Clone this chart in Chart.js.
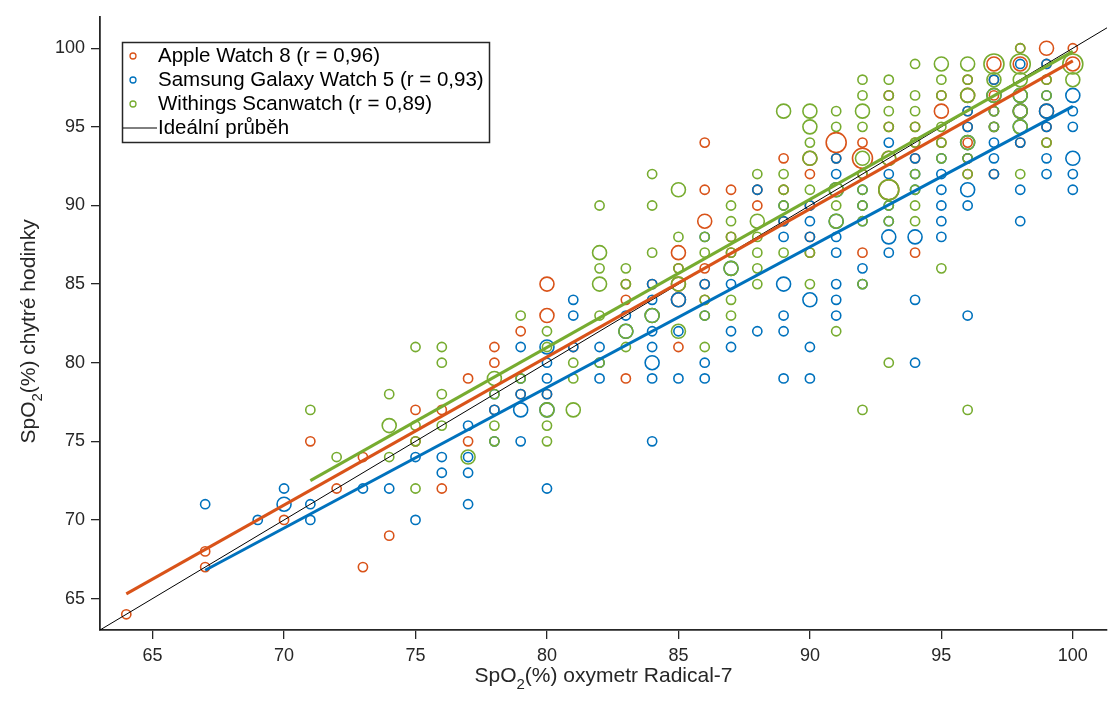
<!DOCTYPE html>
<html>
<head>
<meta charset="utf-8">
<script src="https://cdn.jsdelivr.net/npm/chart.js@4.4.1/dist/chart.umd.min.js"></script>
<style>
  html, body { margin: 0; padding: 0; background: #fff; }
  #wrap { width: 1110px; height: 707px; }
</style>
</head>
<body>
<div id="wrap"><canvas id="chart" width="1110" height="707"></canvas></div>
<script>
// series: [oxymetr SpO2, watch SpO2, count]
const apple = [
  [64,64,1],[67,67,1],[67,68,1],[70,70,1],[71,75,1],[72,72,1],[73,67,1],[73,74,1],[74,69,1],
  [75,77,1],[75,75,1],[76,77,1],[76,72,1],[77,79,1],[77,75,1],[78,81,1],[78,80,1],[78,77,1],
  [79,82,1],[79,78,1],[80,85,2],[80,83,2],[80,78,1],[81,81,1],[83,85,1],[83,84,1],[83,79,1],
  [84,85,1],[85,87,2],[85,86,1],[85,85,2],[85,84,2],[85,81,1],
  [86,94,1],[86,91,1],[86,89,2],[86,86,1],[86,85,1],[86,84,1],
  [87,91,1],[87,88,1],[87,87,1],[88,91,1],[88,90,1],[89,93,1],[89,91,1],[89,89,1],
  [90,93,2],[90,92,1],[90,90,1],[90,88,1],[90,87,1],[91,94,3],[91,93,1],
  [92,94,1],[92,93,3],[92,92,1],[92,87,1],[93,97,1],[93,95,1],[93,93,2],[93,91,3],
  [94,95,1],[94,94,1],[94,93,1],[94,87,1],[95,97,1],[95,96,2],[95,94,1],
  [96,98,1],[96,97,2],[96,96,1],[96,95,1],[96,94,1],[96,93,1],[96,92,1],
  [97,99,2],[97,98,1],[97,97,1],[97,96,1],[97,95,1],[97,92,1],
  [98,100,1],[98,99,2],[98,96,2],[98,94,1],
  [99,100,2],[99,99,1],[99,98,1],[99,96,2],[99,95,1],[99,94,1],[100,100,1],[100,99,2]
];
const samsung = [
  [67,71,1],[69,70,1],[70,72,1],[70,71,2],[71,71,1],[71,70,1],[73,72,1],[74,72,1],[75,74,1],[75,70,1],
  [76,74,1],[76,73,1],[77,76,1],[77,74,1],[77,73,1],[77,71,1],[78,78,1],[78,77,1],[78,75,1],
  [79,81,1],[79,79,1],[79,78,1],[79,77,2],[79,75,1],[80,81,2],[80,80,1],[80,79,1],[80,78,1],[80,77,2],[80,72,1],
  [81,84,1],[81,83,1],[81,81,1],[82,81,1],[82,80,1],[82,79,1],[83,83,1],[83,82,2],
  [84,85,1],[84,84,1],[84,83,2],[84,82,1],[84,81,1],[84,80,2],[84,79,1],[84,75,1],
  [85,84,2],[85,82,1],[85,79,1],[86,88,1],[86,85,1],[86,83,1],[86,80,1],[86,79,1],
  [87,86,2],[87,85,1],[87,82,1],[87,81,1],[88,91,1],[88,82,1],
  [89,90,1],[89,89,1],[89,88,1],[89,85,2],[89,83,1],[89,82,1],[89,79,1],
  [90,90,1],[90,89,1],[90,88,1],[90,84,2],[90,81,1],[90,79,1],
  [91,93,1],[91,92,1],[91,91,2],[91,89,2],[91,88,1],[91,87,1],[91,85,1],[91,84,1],[91,83,1],
  [92,91,1],[92,90,1],[92,89,1],[92,86,1],[92,85,1],
  [93,94,1],[93,92,1],[93,90,1],[93,89,1],[93,88,2],[93,87,1],
  [94,93,1],[94,92,1],[94,91,1],[94,88,2],[94,84,1],[94,80,1],
  [95,93,1],[95,92,1],[95,91,1],[95,90,1],[95,89,1],[95,88,1],
  [96,96,1],[96,95,1],[96,94,2],[96,93,1],[96,91,2],[96,90,1],[96,83,1],
  [97,98,1],[97,97,2],[97,96,1],[97,95,1],[97,94,1],[97,93,1],[97,92,1],
  [98,99,1],[98,97,2],[98,96,2],[98,95,2],[98,94,1],[98,91,1],[98,89,1],
  [99,99,1],[99,97,1],[99,96,2],[99,95,1],[99,93,1],[99,92,1],
  [100,97,2],[100,96,1],[100,95,1],[100,93,2],[100,92,1],[100,91,1]
];
const withings = [
  [71,77,1],[72,74,1],[74,78,1],[74,76,2],[74,74,1],[75,81,1],[75,76,1],[75,75,1],[75,72,1],
  [76,81,1],[76,80,1],[76,78,1],[76,76,1],[77,74,2],[78,79,2],[78,78,1],[78,76,1],[78,75,1],
  [79,83,1],[79,79,1],[80,82,1],[80,81,1],[80,77,2],[80,76,1],[80,75,1],[81,80,1],[81,79,1],[81,77,2],
  [82,90,1],[82,87,2],[82,86,1],[82,85,2],[82,83,1],[82,80,1],[83,86,1],[83,85,1],[83,82,2],[83,81,1],
  [84,92,1],[84,90,1],[84,87,1],[84,83,2],[85,91,2],[85,88,1],[85,86,1],[85,85,2],[85,82,2],
  [86,88,1],[86,87,1],[86,84,1],[86,83,1],[86,81,1],
  [87,90,1],[87,89,1],[87,88,1],[87,87,1],[87,86,2],[87,84,1],[87,83,1],
  [88,92,1],[88,89,2],[88,88,1],[88,87,1],[88,86,1],[88,85,1],
  [89,96,2],[89,92,1],[89,91,1],[89,90,1],[89,87,1],
  [90,96,2],[90,95,2],[90,94,1],[90,93,2],[90,91,1],[90,87,1],[90,85,1],
  [91,96,1],[91,95,1],[91,91,2],[91,90,1],[91,89,2],[91,82,1],
  [92,98,1],[92,97,1],[92,96,2],[92,95,1],[92,93,2],[92,92,1],[92,91,1],[92,90,1],[92,89,1],[92,85,1],[92,77,1],
  [93,98,1],[93,97,1],[93,96,1],[93,95,1],[93,93,2],[93,91,3],[93,90,1],[93,89,1],[93,80,1],
  [94,99,1],[94,97,1],[94,96,1],[94,95,1],[94,94,1],[94,92,1],[94,91,1],[94,90,1],[94,89,1],
  [95,99,2],[95,98,1],[95,97,1],[95,95,1],[95,94,1],[95,93,1],[95,86,1],
  [96,99,2],[96,98,1],[96,97,2],[96,94,2],[96,93,1],[96,92,1],[96,77,1],
  [97,99,3],[97,98,2],[97,97,2],[97,96,1],[97,95,1],
  [98,100,1],[98,99,3],[98,98,2],[98,97,2],[98,96,2],[98,95,2],[98,92,1],
  [99,98,1],[99,97,1],[99,94,1],[100,99,3],[100,98,2]
];

// fitted lines (end points) and the ideal y = x line
const appleFit = [[64,65.3],[100,99.2]];
const samsungFit = [[67,66.8],[100,96.3]];
const withingsFit = [[71,72.5],[100,99.8]];
const ideal = [[63,63],[102,102]];

const xTicks = [65,70,75,80,85,90,95,100];
const yTicks = [65,70,75,80,85,90,95,100];

const labels = ["Apple Watch 8 (r = 0,96)", "Samsung Galaxy Watch 5 (r = 0,93)", "Withings Scanwatch (r = 0,89)", "Ideální průběh"];

const colors = ['#D95319', '#0072BD', '#77AC30'];
const radius = { 1: 4.6, 2: 7, 3: 10 };
const ink = '#262626';
const font = '"Liberation Sans", Arial, sans-serif';

const bubbles = (arr) => arr.map(p => ({ x: p[0], y: p[1], r: radius[p[2]] }));
const pts = (arr) => arr.map(p => ({ x: p[0], y: p[1] }));

// draws the in-plot legend and the axis titles with subscripts
const decor = {
  id: 'decor',
  afterDraw(chart) {
    const ctx = chart.ctx;
    ctx.save();
    ctx.fillStyle = '#fff';
    ctx.fillRect(122, 42, 368, 101);
    ctx.strokeStyle = ink;
    ctx.lineWidth = 1.5;
    ctx.strokeRect(122.5, 42.5, 367, 100);
    ctx.font = '20.5px ' + font;
    ctx.textBaseline = 'middle';
    const rows = [56, 80, 104, 128];
    for (let i = 0; i < 4; i++) {
      if (i < 3) {
        ctx.strokeStyle = colors[i];
        ctx.lineWidth = 1.3;
        ctx.beginPath();
        ctx.arc(133, rows[i], 3, 0, Math.PI * 2);
        ctx.stroke();
      } else {
        ctx.strokeStyle = '#000';
        ctx.lineWidth = 1;
        ctx.beginPath();
        ctx.moveTo(123, rows[i]);
        ctx.lineTo(157, rows[i]);
        ctx.stroke();
      }
      ctx.fillStyle = '#000';
      ctx.fillText(labels[i], 158, rows[i]);
    }

    const title = (rest, cx, cy, rot) => {
      ctx.save();
      ctx.translate(cx, cy);
      ctx.rotate(rot);
      ctx.fillStyle = ink;
      ctx.textBaseline = 'alphabetic';
      const big = '21px ' + font, small = '15px ' + font;
      ctx.font = big;
      const w1 = ctx.measureText('SpO').width;
      const w3 = ctx.measureText(rest).width;
      ctx.font = small;
      const w2 = ctx.measureText('2').width;
      let x = -(w1 + w2 + w3) / 2;
      ctx.font = big;
      ctx.fillText('SpO', x, 7);
      ctx.font = small;
      ctx.fillText('2', x + w1, 14);
      ctx.font = big;
      ctx.fillText(rest, x + w1 + w2, 7);
      ctx.restore();
    };
    const a = chart.chartArea;
    title('(%) oxymetr Radical-7', (a.left + a.right) / 2, 675, 0);
    title('(%) chytré hodinky', 28, (a.top + a.bottom) / 2 + 8, -Math.PI / 2);
    ctx.restore();
  }
};

const lineSet = (arr, color, width) => ({
  type: 'line', data: pts(arr), borderColor: color, borderWidth: width,
  pointRadius: 0, fill: false, order: 0
});
const bubbleSet = (arr, color, order) => ({
  type: 'bubble', data: bubbles(arr), borderColor: color, backgroundColor: 'rgba(0,0,0,0)',
  borderWidth: 1.6, order: order
});

new Chart(document.getElementById('chart'), {
  type: 'bubble',
  data: {
    datasets: [
      bubbleSet(apple, colors[0], 3),
      bubbleSet(samsung, colors[1], 2),
      bubbleSet(withings, colors[2], 1),
      lineSet(appleFit, colors[0], 3),
      lineSet(samsungFit, colors[1], 3),
      lineSet(withingsFit, colors[2], 3),
      lineSet(ideal, '#000', 1)
    ]
  },
  options: {
    responsive: false,
    animation: false,
    layout: { autoPadding: false, padding: { top: 15, right: 3, left: 0, bottom: 0 } },
    plugins: { legend: { display: false }, tooltip: { enabled: false } },
    scales: {
      x: {
        type: 'linear', min: 63, max: 101.3,
        afterBuildTicks: s => { s.ticks = xTicks.map(v => ({ value: v })); },
        afterFit: s => { s.height = 77; },
        ticks: { color: ink, font: { size: 18, family: font }, padding: 6, maxRotation: 0 },
        grid: { drawOnChartArea: false, tickLength: 9, color: ink, lineWidth: 1.3 },
        border: { color: ink, width: 1.8 }
      },
      y: {
        type: 'linear', min: 63, max: 102,
        afterBuildTicks: s => { s.ticks = yTicks.map(v => ({ value: v })); },
        afterFit: s => { s.width = 100; },
        ticks: { color: ink, font: { size: 18, family: font }, padding: 6 },
        grid: { drawOnChartArea: false, tickLength: 9, color: ink, lineWidth: 1.3 },
        border: { color: ink, width: 1.8 }
      }
    }
  },
  plugins: [decor]
});
</script>
</body>
</html>
